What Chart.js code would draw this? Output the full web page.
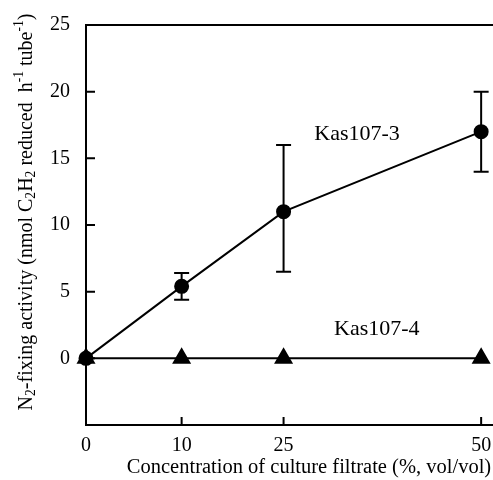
<!DOCTYPE html>
<html>
<head>
<meta charset="utf-8">
<script src="https://cdn.jsdelivr.net/npm/chart.js@4.4.1/dist/chart.umd.min.js"></script>
<style>
  html, body { margin: 0; padding: 0; background: #fff; }
  #wrap { width: 493px; height: 480px; }
</style>
</head>
<body>
<div id="wrap"><canvas id="chart"></canvas></div>
<script>
// tick labels of the concentration axis and where they sit on it
const concentrationLabels = ['0', '10', '25', '50'];
const concentrationPos = [0, 12.1, 25, 50];

// Kas107-3 means and error bar ends
const kas1073 = [0, 5.4, 11, 17];
const kas1073Low = [0, 4.4, 6.5, 14];
const kas1073High = [0, 6.4, 16, 20];

// Kas107-4
const kas1074 = [0, 0, 0, 0];

const yTicks = [0, 5, 10, 15, 20, 25];

const FONT = '"Liberation Serif", "Times New Roman", serif';

function pts(vals){ return vals.map((v,i)=>({x: concentrationPos[i], y: v})); }

// draws text made of [text, 'n'|'sub'|'sup'] pieces
function richText(ctx, parts, x, y, size){
  let cx = x;
  parts.forEach(([t, kind])=>{
    const s = kind === 'n' ? size : size * 0.68;
    ctx.font = s + 'px ' + FONT;
    const dy = kind === 'sub' ? size * 0.22 : kind === 'sup' ? -size * 0.38 : 0;
    ctx.fillText(t, cx, y + dy);
    cx += ctx.measureText(t).width;
  });
  return cx - x;
}
function richWidth(ctx, parts, size){
  let w = 0;
  parts.forEach(([t, kind])=>{
    const s = kind === 'n' ? size : size * 0.68;
    ctx.font = s + 'px ' + FONT;
    w += ctx.measureText(t).width;
  });
  return w;
}

const yTitle = [
  ['N','n'],['2','sub'],['-fixing activity (nmol C','n'],['2','sub'],['H','n'],['2','sub'],
  [' reduced  h','n'],['-1','sup'],[' tube','n'],['-1','sup'],[')','n']
];

const extras = {
  id: 'extras',
  afterDatasetsDraw(chart){
    const {ctx, chartArea, scales:{x, y}} = chart;
    ctx.save();
    ctx.strokeStyle = '#000';
    ctx.fillStyle = '#000';
    ctx.lineWidth = 2;

    // error bars
    kas1073.forEach((v,i)=>{
      if (kas1073High[i] === kas1073Low[i]) return;
      const px = x.getPixelForValue(concentrationPos[i]);
      const top = y.getPixelForValue(kas1073High[i]);
      const bot = y.getPixelForValue(kas1073Low[i]);
      ctx.beginPath();
      ctx.moveTo(px, top); ctx.lineTo(px, bot);
      ctx.moveTo(px-7.5, top); ctx.lineTo(px+7.5, top);
      ctx.moveTo(px-7.5, bot); ctx.lineTo(px+7.5, bot);
      ctx.stroke();
    });

    // top frame line
    ctx.beginPath();
    ctx.moveTo(chartArea.left, chartArea.top);
    ctx.lineTo(chartArea.right, chartArea.top);
    ctx.stroke();

    // inward tick marks
    ctx.beginPath();
    yTicks.forEach(v=>{
      const py = y.getPixelForValue(v);
      ctx.moveTo(chartArea.left, py); ctx.lineTo(chartArea.left + 9, py);
    });
    concentrationPos.forEach(v=>{
      const px = x.getPixelForValue(v);
      ctx.moveTo(px, chartArea.bottom); ctx.lineTo(px, chartArea.bottom - 8);
    });
    ctx.stroke();

    // series labels
    ctx.font = '22px ' + FONT;
    ctx.textAlign = 'center';
    ctx.textBaseline = 'middle';
    ctx.fillText('Kas107-3', x.getPixelForValue(34.3), y.getPixelForValue(16.8));
    ctx.fillText('Kas107-4', x.getPixelForValue(36.8), y.getPixelForValue(2.2));

    // x title
    ctx.font = '20.5px ' + FONT;
    ctx.fillText('Concentration of culture filtrate (%, vol/vol)', 309, 468);

    // y title
    ctx.translate(27, 212);
    ctx.rotate(-Math.PI/2);
    ctx.textAlign = 'left';
    const size = 20;
    const w = richWidth(ctx, yTitle, size);
    richText(ctx, yTitle, -w/2, 0, size);
    ctx.restore();
  }
};

new Chart(document.getElementById('chart'), {
  type: 'line',
  data: {
    datasets: [
      {
        label: 'Kas107-3',
        data: pts(kas1073),
        borderColor: '#000', borderWidth: 2,
        pointStyle: 'circle', pointRadius: 6.5,
        pointBackgroundColor: '#000', pointBorderColor: '#000',
        tension: 0
      },
      {
        label: 'Kas107-4',
        data: pts(kas1074),
        borderColor: '#000', borderWidth: 2,
        pointStyle: 'triangle', pointRadius: 9,
        pointBackgroundColor: '#000', pointBorderColor: '#000',
        tension: 0
      }
    ]
  },
  options: {
    responsive: true,
    maintainAspectRatio: false,
    animation: false,
    clip: false,
    layout: { autoPadding: false, padding: { left: 0, top: 25, right: 0, bottom: 0 } },
    plugins: { legend: { display: false }, tooltip: { enabled: false } },
    scales: {
      x: {
        type: 'linear',
        min: 0, max: 51.5,
        afterFit(s){ s.height = 55; s.paddingLeft = 0; s.paddingRight = 0; },
        afterBuildTicks(s){ s.ticks = concentrationPos.map(v=>({value: v})); },
        grid: { display: false, drawTicks: false },
        border: { display: true, color: '#000', width: 2 },
        ticks: {
          padding: 9,
          color: '#000',
          font: { family: FONT, size: 20 },
          maxRotation: 0,
          autoSkip: false,
          callback: (v, i) => concentrationLabels[i]
        }
      },
      y: {
        min: -5, max: 25,
        afterFit(s){ s.width = 86; s.paddingTop = 0; s.paddingBottom = 0; },
        grid: { display: false, drawTicks: false },
        border: { display: true, color: '#000', width: 2 },
        ticks: {
          stepSize: 5,
          padding: 16,
          color: '#000',
          font: { family: FONT, size: 20 },
          callback: v => v < 0 ? '' : v
        }
      }
    }
  },
  plugins: [extras]
});
</script>
</body>
</html>
